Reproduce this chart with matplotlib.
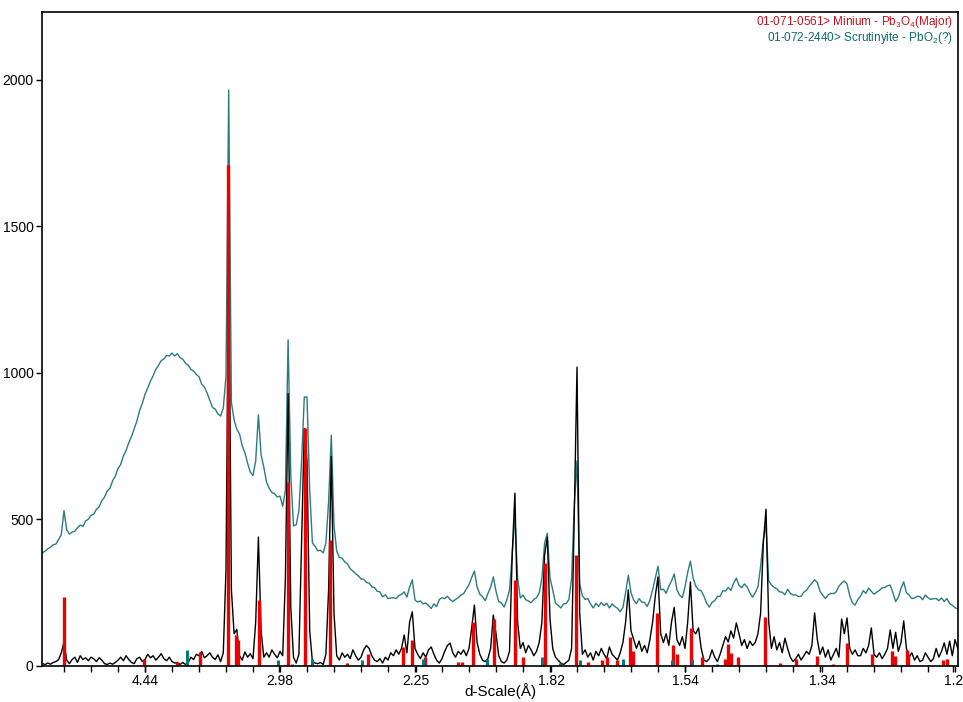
import numpy as np
import matplotlib
matplotlib.use("Agg")
import matplotlib.pyplot as plt
from matplotlib.ticker import MultipleLocator

# scan: Cu K-alpha, 2-theta grid
wavelength = 1.5406
scan_start = 12.4
scan_step = 0.2

# measured pattern (black), one value per scan step, rows of 2 degrees
black = [
    8, 5, 10,
    6, 12, 15, 22, 45, 82, 20, 8, 22, 30,
    12, 35, 22, 28, 18, 30, 25, 15, 28, 20,
    8, 5, 10, 6, 12, 20, 30, 18, 35, 22,
    12, 8, 25, 30, 15, 22, 40, 28, 35, 20,
    30, 42, 25, 18, 30, 15, 10, 12, 5, 12,
    5, 12, 30, 22, 40, 35, 50, 28, 35, 45,
    30, 22, 38, 15, 45, 330, 1420, 260, 110, 125,
    35, 20, 48, 30, 42, 25, 150, 440, 120, 30,
    45, 30, 55, 40, 28, 50, 35, 300, 930, 200,
    30, 10, 40, 420, 810, 700, 120, 15, 10, 8,
    12, 5, 40, 260, 715, 180, 35, 20, 45, 30,
    40, 25, 55, 35, 20, 30, 55, 70, 60, 35,
    20, 15, 25, 10, 30, 20, 45, 35, 55, 40,
    60, 106, 45, 150, 185, 60, 40, 25, 45, 30,
    55, 65, 40, 20, 10, 25, 50, 70, 78, 45,
    30, 50, 40, 55, 35, 60, 130, 208, 80, 40,
    20, 15, 25, 60, 174, 110, 35, 15, 10, 20,
    50, 380, 590, 150, 60, 80, 45, 70, 55, 35,
    50, 80, 150, 380, 440, 160, 60, 30, 20, 10,
    5, 12, 20, 60, 520, 1020, 180, 40, 55, 30,
    45, 20, 50, 35, 60, 40, 25, 65, 40, 30,
    20, 45, 80, 150, 260, 120, 90, 60, 85, 50,
    70, 45, 90, 150, 240, 304, 110, 80, 110, 70,
    150, 200, 90, 70, 100, 60, 150, 287, 120, 110,
    130, 60, 20, 15, 25, 55, 30, 15, 40, 70,
    100, 82, 120, 95, 147, 110, 70, 90, 60, 85,
    70, 80, 110, 180, 420, 535, 150, 60, 100, 55,
    80, 45, 95, 60, 30, 15, 25, 40, 20, 35,
    50, 40, 70, 181, 90, 40, 65, 30, 55, 20,
    40, 60, 30, 160, 110, 164, 60, 40, 55, 35,
    35, 60, 45, 70, 130, 40, 30, 45, 25, 40,
    60, 123, 60, 115, 50, 80, 154, 60, 30, 45,
    20, 35, 15, 20, 45, 30, 15, 25, 60, 30,
    50, 79, 40, 85, 35, 90, 60,
]

# second pattern (teal), same grid
teal = [
    386, 392, 400,
    405, 414, 416, 432, 448, 530, 465, 450, 457, 460,
    472, 481, 476, 495, 501, 514, 518, 535, 543, 564,
    576, 597, 606, 632, 648, 674, 688, 717, 736, 762,
    783, 810, 836, 872, 896, 927, 948, 972, 990, 1012,
    1026, 1042, 1048, 1060, 1058, 1068, 1058, 1066, 1052, 1047,
    1033, 1027, 1012, 1007, 995, 987, 962, 952, 932, 907,
    882, 877, 860, 853, 880, 990, 1966, 900, 840, 808,
    792, 752, 728, 692, 662, 650, 700, 857, 720, 679,
    628, 606, 592, 588, 577, 580, 545, 600, 1113, 650,
    478, 482, 530, 700, 918, 918, 600, 420, 408, 393,
    395, 386, 420, 560, 788, 480, 392, 370, 368, 355,
    348, 332, 324, 315, 308, 297, 296, 285, 283, 270,
    268, 255, 253, 236, 243, 230, 232, 233, 230, 240,
    245, 253, 235, 270, 294, 225, 218, 222, 212, 215,
    207, 196, 212, 203, 227, 233, 230, 238, 227, 220,
    227, 233, 242, 247, 262, 278, 302, 324, 270, 245,
    237, 223, 247, 268, 304, 255, 220, 215, 201, 225,
    259, 380, 510, 300, 232, 242, 226, 222, 216, 227,
    233, 249, 300, 420, 453, 300, 260, 215, 207, 198,
    212, 213, 227, 300, 550, 700, 280, 240, 227, 230,
    212, 198, 214, 203, 217, 206, 214, 198, 212, 203,
    197, 185, 200, 250, 310, 250, 225, 213, 230, 218,
    217, 203, 225, 260, 300, 341, 260, 262, 248, 272,
    290, 314, 260, 242, 233, 270, 320, 358, 300, 272,
    260, 257, 238, 215, 201, 217, 223, 237, 238, 257,
    256, 268, 258, 282, 300, 275, 267, 280, 270, 250,
    235, 250, 270, 340, 430, 480, 290, 277, 268, 264,
    253, 252, 243, 262, 248, 242, 243, 237, 238, 252,
    258, 272, 283, 294, 285, 255, 242, 230, 242, 248,
    247, 253, 272, 283, 290, 280, 240, 215, 208, 227,
    238, 257, 248, 266, 255, 245, 252, 258, 267, 268,
    274, 276, 250, 220, 235, 265, 287, 250, 242, 230,
    232, 238, 237, 226, 242, 233, 227, 230, 230, 223,
    232, 220, 230, 213, 207, 199, 195,
]

# reference sticks: 01-071-0561 Minium Pb3O4
minium_2theta = [14.00, 19.93, 22.37, 24.07, 26.15, 26.74, 26.89, 28.44, 30.59,
                 31.85, 33.70, 34.96, 36.52, 39.11, 39.78, 40.74, 42.22, 43.19,
                 43.48, 44.30, 45.33, 45.85, 47.41, 48.00, 49.63, 51.96, 52.81,
                 53.85, 54.22, 54.96, 55.93, 56.15, 57.93, 59.11, 59.41, 60.44,
                 61.26, 62.96, 63.19, 63.41, 63.93, 65.93, 67.04, 68.22, 69.78,
                 70.96, 72.00, 73.85, 75.33, 75.56, 76.44, 76.52, 79.11, 79.41]
minium_int = [235, 25, 12, 48, 1710, 105, 90, 225, 628,
              812, 430, 10, 40, 65, 89, 30, 5, 15,
              15, 150, 10, 160, 293, 30, 350, 380, 15,
              20, 30, 20, 99, 50, 181, 72, 40, 130,
              30, 25, 75, 45, 30, 167, 10, 25, 35,
              8, 80, 40, 50, 35, 55, 40, 20, 25]

# reference sticks: 01-072-2440 Scrutinyite PbO2
scrut_2theta = [23.11, 29.85, 30.89, 32.37, 36.07, 40.59, 45.33, 49.41, 50.74,
                52.22, 55.41, 59.04, 60.52, 62.37]
scrut_int = [55, 20, 8, 25, 20, 25, 25, 30, 10, 20, 25, 20, 25, 8]

d_labels = ["4.44", "2.98", "2.25", "1.82", "1.54", "1.34", "1.2"]
y_ticks = [0, 500, 1000, 1500, 2000]

plt.rcParams['font.family'] = ['Liberation Sans', 'DejaVu Sans']
plt.rcParams['mathtext.fontset'] = 'custom'
plt.rcParams['mathtext.rm'] = 'Liberation Sans'
plt.rcParams['mathtext.default'] = 'regular'

fig = plt.figure(figsize=(9.63, 7.02), dpi=100)
ax = fig.add_axes([0.0436, 0.0513, 0.9512, 0.9316])

two_theta = scan_start + scan_step * np.arange(len(black))
ax.plot(two_theta, teal, color='#2b7c7c', lw=1.0)
ax.plot(two_theta, black, color='black', lw=1.0)
ax.vlines(minium_2theta, 0, minium_int, color='#ee0000', lw=2.4)
ax.vlines(scrut_2theta, 0, scrut_int, color='#007a7a', lw=2.2)

ax.set_xlim(12.37, 80.22)
ax.set_ylim(0, 2232)

# d-spacing labels placed at their Bragg angle
d_vals = np.array([float(s) for s in d_labels])
ax.set_xticks(2 * np.degrees(np.arcsin(wavelength / (2 * d_vals))))
ax.set_xticklabels(d_labels)
ax.xaxis.set_minor_locator(MultipleLocator(2))
ax.set_yticks(y_ticks)
ax.tick_params(which='both', direction='out', length=4, width=1,
               labelsize=10, pad=2)
for sp in ax.spines.values():
    sp.set_linewidth(1.2)

# axis title sits tight against the bottom edge
fig.text(0.52, 0.004, 'd-Scale(Å)', ha='center', va='bottom', fontsize=11)

ax.text(0.9945, 0.985, '01-071-0561> Minium - Pb$_3$O$_4$(Major)',
        transform=ax.transAxes, ha='right', va='center', fontsize=8.5,
        color='#c0141e')
ax.text(0.9945, 0.960, '01-072-2440> Scrutinyite - PbO$_2$(?)',
        transform=ax.transAxes, ha='right', va='center', fontsize=8.5,
        color='#0d6b6b')

fig.savefig('out.png', dpi=100)
